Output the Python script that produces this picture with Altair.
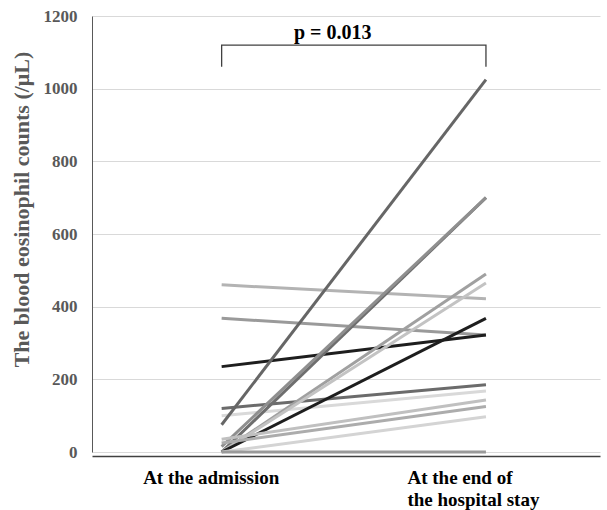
import altair as alt
import pandas as pd

# ---- data ----
categories = ["At the admission", "At the end of\nthe hospital stay"]
patients = ["P01", "P02", "P03", "P04", "P05", "P06", "P07", "P08",
            "P09", "P10", "P11", "P12", "P13", "P14", "P15"]
admission = [460, 368, 235, 120, 100, 75, 0, 15, 0, 0, 0, 35, 25, 0, 0]
end_stay = [422, 322, 322, 185, 168, 1025, 700, 700, 490, 465, 368, 143, 125, 97, 0]
line_colors = ["#b3b3b3", "#9a9a9a", "#1e1e1e", "#6b6b6b", "#d9d9d9",
               "#666666", "#6e6e6e", "#8f8f8f", "#a0a0a0", "#c3c3c3",
               "#1e1e1e", "#c0c0c0", "#acacac", "#d4d4d4", "#9a9a9a"]
y_ticks = [0, 200, 400, 600, 800, 1000, 1200]
p_label = "p = 0.013"
bracket_low = 1060
bracket_high = 1120
p_label_value = 1137

# ---- tables built from the arrays ----
rows = []
for pid, a, e in zip(patients, admission, end_stay):
    rows.append({"patient": pid, "time": categories[0], "value": a})
    rows.append({"patient": pid, "time": categories[1], "value": e})
lines_df = pd.DataFrame(rows)

bracket_df = pd.DataFrame({
    "time": [categories[0], categories[0], categories[1], categories[1]],
    "value": [bracket_low, bracket_high, bracket_high, bracket_low],
    "step": [0, 1, 2, 3],
})
label_df = pd.DataFrame({"time": [categories[0]], "value": [p_label_value], "label": [p_label]})

FONT = "Liberation Serif"

x_enc = alt.X(
    "time:N",
    sort=categories,
    scale=alt.Scale(type="point", padding=0.461, align=0.532),
    axis=alt.Axis(
        title=None,
        labelExpr="split(datum.label, '\\n')",
        labelAlign="left",
        labelBaseline="top",
        labelOffset=-79,
        labelPadding=12,
        labelLineHeight=22,
        labelFont=FONT,
        labelFontSize=19,
        labelFontWeight="bold",
        labelColor="#000000",
        labelAngle=0,
        ticks=False,
        grid=False,
        domainColor="#404040",
        domainWidth=1.5,
        offset=4,
    ),
)
y_enc = alt.Y(
    "value:Q",
    scale=alt.Scale(domain=[0, 1200], nice=False),
    axis=alt.Axis(
        values=y_ticks,
        format="d",
        title="The blood eosinophil counts (/\u03bcL)",
        titleFont=FONT,
        titleFontSize=22,
        titleFontWeight="bold",
        titleColor="#595959",
        titlePadding=10,
        titleY=193,
        labelFont=FONT,
        labelFontSize=17,
        labelFontWeight="bold",
        labelColor="#595959",
        labelPadding=15,
        ticks=False,
        grid=True,
        gridColor="#d9d9d9",
        gridWidth=1,
        domainColor="#595959",
        domainWidth=1,
    ),
)

lines = alt.Chart(lines_df).mark_line(strokeWidth=3).encode(
    x=x_enc,
    y=y_enc,
    color=alt.Color("patient:N", scale=alt.Scale(domain=patients, range=line_colors), legend=None),
    detail="patient:N",
)

bracket = alt.Chart(bracket_df).mark_line(color="#404040", strokeWidth=1.3).encode(
    x=x_enc,
    y=y_enc,
    order=alt.Order("step:Q"),
)

ptext = alt.Chart(label_df).mark_text(
    dx=111, align="center", baseline="alphabetic",
    font=FONT, fontSize=20, fontWeight="bold", color="#000000",
).encode(
    x=x_enc,
    y=y_enc,
    text="label:N",
)

chart = alt.layer(lines, bracket, ptext).properties(
    width=508,
    height=436,
    padding={"left": 92, "top": 16, "right": 7, "bottom": 58},
    autosize=alt.AutoSizeParams(type="none"),
    background="white",
).configure_view(stroke=None)

chart.save("out.html", embed_options={"renderer": "svg", "actions": False})
